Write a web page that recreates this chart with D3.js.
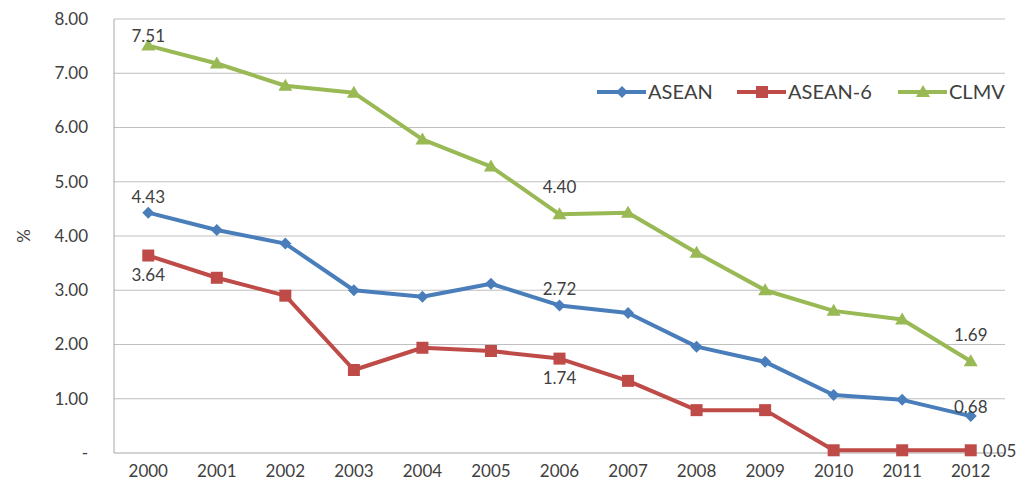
<!DOCTYPE html>
<html>
<head>
<meta charset="utf-8">
<script src="https://cdn.jsdelivr.net/npm/d3@7"></script>
<style>
  body { margin: 0; background: #fff; }
  text { font-family: Lato, "Open Sans", sans-serif; fill: #404040; }
</style>
</head>
<body>
<svg id="chart" width="1022" height="483"></svg>
<script>
const years = ['2000','2001','2002','2003','2004','2005','2006','2007','2008','2009','2010','2011','2012'];
const asean = [4.43, 4.11, 3.86, 3.00, 2.88, 3.12, 2.72, 2.58, 1.96, 1.68, 1.07, 0.98, 0.68];
const asean6 = [3.64, 3.23, 2.90, 1.53, 1.94, 1.88, 1.74, 1.33, 0.79, 0.79, 0.05, 0.05, 0.05];
const clmv = [7.51, 7.18, 6.77, 6.64, 5.78, 5.28, 4.40, 4.43, 3.69, 3.00, 2.62, 2.46, 1.69];
const yTicks = [0, 1, 2, 3, 4, 5, 6, 7, 8];

const series = [
  { name: 'ASEAN', values: asean, color: '#4a7ebb', marker: 'diamond' },
  { name: 'ASEAN-6', values: asean6, color: '#be4b48', marker: 'square' },
  { name: 'CLMV', values: clmv, color: '#98b954', marker: 'triangle' }
];

// which points carry a data label and where
const labels = [
  { s: 0, i: 0, dx: 0, dy: -10, a: 'middle' }, { s: 0, i: 6, dx: 0, dy: -10, a: 'middle' },
  { s: 0, i: 12, dx: 0, dy: -3, a: 'middle' },
  { s: 1, i: 0, dx: 0, dy: 25, a: 'middle' }, { s: 1, i: 6, dx: 0, dy: 25, a: 'middle' },
  { s: 1, i: 12, dx: 12, dy: 7, a: 'start' },
  { s: 2, i: 0, dx: 0, dy: -4, a: 'middle' }, { s: 2, i: 6, dx: 0, dy: -21, a: 'middle' },
  { s: 2, i: 12, dx: 0, dy: -20, a: 'middle' }
];

const svg = d3.select('#chart');
const margin = { left: 114, top: 19, right: 17, bottom: 30 };
const width = 1022 - margin.left - margin.right;
const height = 483 - margin.top - margin.bottom;

const x = d3.scaleBand().domain(years).range([0, width]);
const y = d3.scaleLinear().domain([0, 8]).range([height, 0]);

const g = svg.append('g').attr('transform', `translate(${margin.left},${margin.top})`);

// gridlines
g.selectAll('.grid')
  .data(yTicks.slice(1))
  .enter()
  .append('line')
  .attr('x1', 0).attr('x2', width)
  .attr('y1', d => y(d)).attr('y2', d => y(d))
  .attr('stroke', '#bfbfbf').attr('stroke-width', 1);

// axes lines
g.append('line').attr('x1', 0).attr('x2', 0).attr('y1', 0).attr('y2', height)
  .attr('stroke', '#a6a6a6');
g.append('line').attr('x1', 0).attr('x2', width).attr('y1', height).attr('y2', height)
  .attr('stroke', '#a6a6a6');

// y tick labels
g.selectAll('.ylab')
  .data(yTicks)
  .enter()
  .append('text')
  .attr('x', -26)
  .attr('y', d => y(d))
  .attr('dy', '0.35em')
  .attr('text-anchor', 'end')
  .style('font-size', '17px')
  .text(d => d === 0 ? '-' : d.toFixed(2));

// x tick labels
g.selectAll('.xlab')
  .data(years)
  .enter()
  .append('text')
  .attr('x', d => x(d) + x.bandwidth() / 2)
  .attr('y', height + 24)
  .attr('text-anchor', 'middle')
  .style('font-size', '17px')
  .text(d => d);

svg.append('text')
  .attr('transform', 'translate(30,236) rotate(-90)')
  .attr('text-anchor', 'middle')
  .style('font-size', '17px')
  .text('%');

const cx = (d, i) => x(years[i]) + x.bandwidth() / 2;

function marker(sel, type, color) {
  if (type === 'diamond') {
    sel.append('path').attr('d', 'M0,-6L6,0L0,6L-6,0Z').attr('fill', color);
  } else if (type === 'square') {
    sel.append('rect').attr('x', -6).attr('y', -6).attr('width', 12).attr('height', 12).attr('fill', color);
  } else {
    sel.append('path').attr('d', 'M0,-7L7,5L-7,5Z').attr('fill', color);
  }
}

const line = d3.line().x(cx).y(d => y(d));

series.forEach(s => {
  g.append('path')
    .datum(s.values)
    .attr('d', line)
    .attr('fill', 'none')
    .attr('stroke', s.color)
    .attr('stroke-width', 4)
    .attr('stroke-linejoin', 'round');

  g.selectAll(null)
    .data(s.values)
    .enter()
    .append('g')
    .attr('transform', (d, i) => `translate(${cx(d, i)},${y(d)})`)
    .each(function () { marker(d3.select(this), s.marker, s.color); });
});

// data labels
g.selectAll('.dlab')
  .data(labels)
  .enter()
  .append('text')
  .attr('x', d => cx(null, d.i) + d.dx)
  .attr('y', d => y(series[d.s].values[d.i]) + d.dy)
  .attr('text-anchor', d => d.a)
  .style('font-size', '17px')
  .text(d => series[d.s].values[d.i].toFixed(2));

// legend
const legend = svg.append('g').attr('transform', 'translate(597,92)');
const legendX = [0, 140, 301];
series.forEach((s, k) => {
  const lg = legend.append('g').attr('transform', `translate(${legendX[k]},0)`);
  lg.append('line').attr('x1', 0).attr('x2', 49).attr('y1', 0).attr('y2', 0)
    .attr('stroke', s.color).attr('stroke-width', 4);
  const m = lg.append('g').attr('transform', 'translate(25,0)');
  marker(m, s.marker, s.color);
  lg.append('text').attr('x', 51).attr('y', 0).attr('dy', '0.35em')
    .style('font-size', '20px').text(s.name);
});
</script>
</body>
</html>
